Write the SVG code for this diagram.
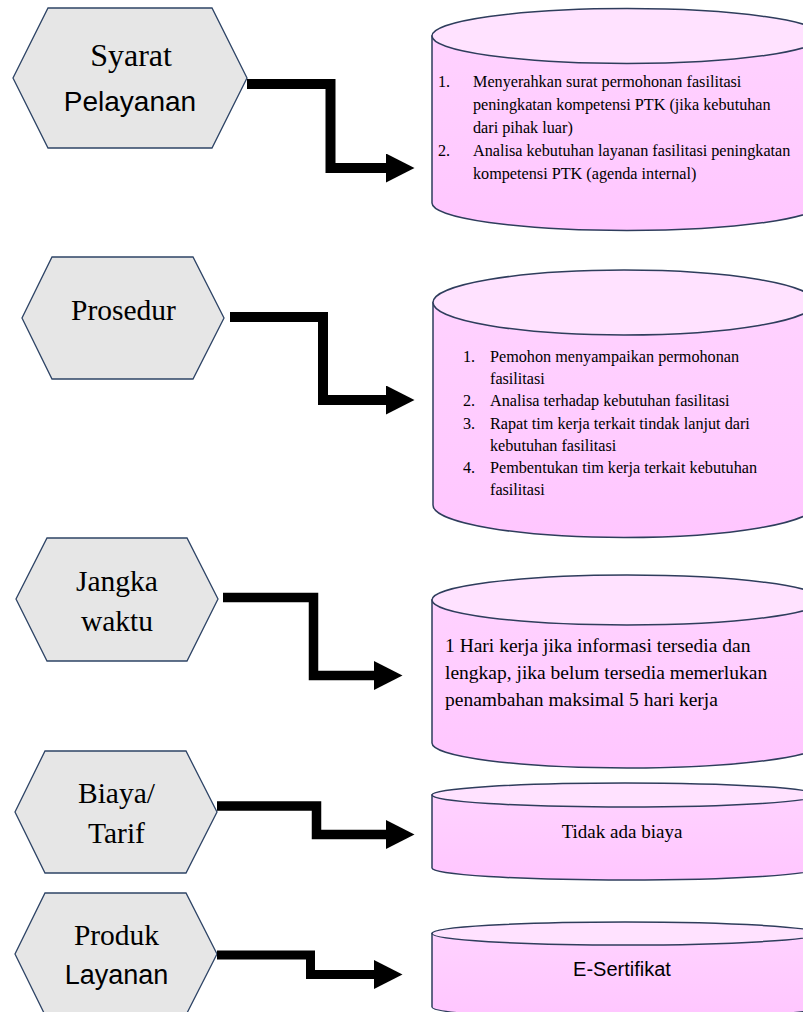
<svg xmlns="http://www.w3.org/2000/svg" width="803" height="1012" viewBox="0 0 803 1012">
<defs>
<linearGradient id="body" x1="0" y1="0" x2="0" y2="1">
<stop offset="0" stop-color="#FFD2FF"/>
<stop offset="1" stop-color="#FFC6FF"/>
</linearGradient>
<marker id="ah" markerUnits="userSpaceOnUse" markerWidth="29" markerHeight="30" refX="0" refY="14.5" orient="auto">
<path d="M0,0 L28.5,14.5 L0,29 Z" fill="#000"/>
</marker>
</defs>
<style>
.hex{fill:#E6E6E6;stroke:#2E4466;stroke-width:1.3}
.cyl{fill:url(#body);stroke:#2E3D5C;stroke-width:1.5}
.top{fill:#FFE2FF;stroke:#2E3D5C;stroke-width:1.5}
.serif{font-family:"Liberation Serif","Times New Roman",serif;fill:#000}
.sans{font-family:"Liberation Sans",Arial,sans-serif;fill:#000}
.hl{font-size:29.5px;text-anchor:middle}
.body{font-size:16.2px}
.conn{fill:none;stroke:#000;stroke-linejoin:miter;marker-end:url(#ah)}
</style>
<rect width="803" height="1012" fill="#fff"/>

<g id="node-syarat">
<polygon class="hex" points="48,8 212,8 247,78 212,148 48,148 13,78"/>
<text class="serif hl" x="131" y="66" style="font-size:32px">Syarat</text>
<text class="sans hl" x="130" y="111" style="font-size:28px">Pelayanan</text>
</g>

<g id="node-prosedur">
<polygon class="hex" points="52,257 193,257 224,318 193,379 52,379 22,318"/>
<text class="serif hl" x="123.5" y="320">Prosedur</text>
</g>

<g id="node-jangka">
<polygon class="hex" points="47,538 187,538 218,599 187,661 47,661 16,599"/>
<text class="serif hl" x="117" y="591">Jangka</text>
<text class="serif hl" x="117" y="631">waktu</text>
</g>

<g id="node-biaya">
<polygon class="hex" points="45,751 186,751 217,812 186,873 45,873 15,812"/>
<text class="serif hl" x="116.5" y="803">Biaya/</text>
<text class="serif hl" x="116.5" y="843">Tarif</text>
</g>

<g id="node-produk">
<polygon class="hex" points="45,893 186,893 217,954 186,1015 45,1015 15,954"/>
<text class="serif hl" x="116.5" y="945">Produk</text>
<text class="sans hl" x="116.5" y="984" style="font-size:27px">Layanan</text>
</g>

<g id="node-syarat-detail">
<path class="cyl" d="M432,36 V203 A195,27.5 0 0 0 822,203 V36 Z"/>
<ellipse class="top" cx="627" cy="36" rx="195" ry="27.5"/>
<g class="serif body">
<text x="438" y="87">1.</text><text x="473" y="87">Menyerahkan surat permohonan fasilitasi</text>
<text x="473" y="110">peningkatan kompetensi PTK (jika kebutuhan</text>
<text x="473" y="133">dari pihak luar)</text>
<text x="438" y="156">2.</text><text x="473" y="156">Analisa kebutuhan layanan fasilitasi peningkatan</text>
<text x="473" y="179">kompetensi PTK (agenda internal)</text>
</g>
</g>

<g id="node-prosedur-detail">
<path class="cyl" d="M433,302.5 V505 A191,32.5 0 0 0 815,505 V302.5 Z"/>
<ellipse class="top" cx="624" cy="302.5" rx="191" ry="32.5"/>
<g class="serif body">
<text x="463" y="362">1.</text><text x="490" y="362">Pemohon menyampaikan permohonan</text>
<text x="490" y="384">fasilitasi</text>
<text x="463" y="406">2.</text><text x="490" y="406">Analisa terhadap kebutuhan fasilitasi</text>
<text x="463" y="429">3.</text><text x="490" y="429">Rapat tim kerja terkait tindak lanjut dari</text>
<text x="490" y="451">kebutuhan fasilitasi</text>
<text x="463" y="473">4.</text><text x="490" y="473">Pembentukan tim kerja terkait kebutuhan</text>
<text x="490" y="495">fasilitasi</text>
</g>
</g>

<g id="node-jangka-detail">
<path class="cyl" d="M432,600 V743 A195,25 0 0 0 822,743 V600 Z"/>
<ellipse class="top" cx="627" cy="600" rx="195" ry="25"/>
<g class="serif" style="font-size:19.5px">
<text x="445" y="652">1 Hari kerja jika informasi tersedia dan</text>
<text x="445" y="679">lengkap, jika belum tersedia memerlukan</text>
<text x="445" y="706">penambahan maksimal 5 hari kerja</text>
</g>
</g>

<g id="node-biaya-detail">
<path class="cyl" d="M432,795 V868 A193,12 0 0 0 818,868 V795 Z"/>
<ellipse class="top" cx="625" cy="795" rx="193" ry="12"/>
<text class="serif" x="622" y="838" text-anchor="middle" style="font-size:19px">Tidak ada biaya</text>
</g>

<g id="node-produk-detail">
<path class="cyl" d="M432,933.5 V1007 A193,11.5 0 0 0 818,1007 V933.5 Z"/>
<ellipse class="top" cx="625" cy="933.5" rx="193" ry="11.5"/>
<text class="sans" x="622" y="976" text-anchor="middle" style="font-size:20px">E-Sertifikat</text>
</g>

<g id="connectors">
<path class="conn" stroke-width="10" d="M247,84 H330.5 V168 H386"/>
<path class="conn" stroke-width="10" d="M230,317 H323 V400 H386"/>
<path class="conn" stroke-width="9.5" d="M223,597.5 H313.5 V675.5 H374"/>
<path class="conn" stroke-width="9.5" d="M217,806 H316.5 V834.5 H386"/>
<path class="conn" stroke-width="9" d="M217,955 H310.5 V974.5 H374"/>
</g>
</svg>
